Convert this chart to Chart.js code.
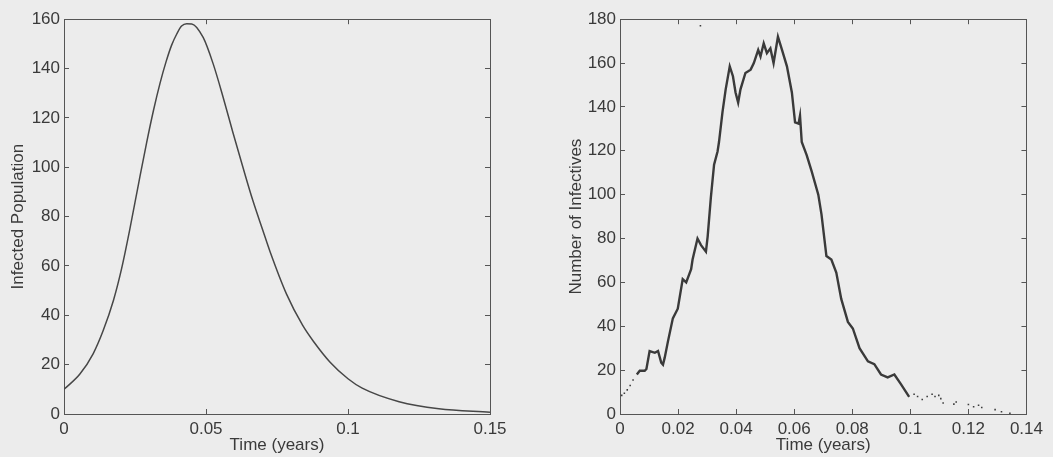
<!DOCTYPE html>
<html>
<head>
<meta charset="utf-8">
<script src="https://cdn.jsdelivr.net/npm/chart.js@4.4.1/dist/chart.umd.min.js"></script>
<style>
  html, body { margin: 0; padding: 0; background: #ececec; }
  #wrap { position: relative; width: 1053px; height: 457px; overflow: hidden; background: #ececec; }
  canvas { position: absolute; top: 0; }
</style>
</head>
<body>
<div id="wrap">
  <canvas id="odeChart" width="530" height="457" style="left:0px"></canvas>
  <canvas id="simChart" width="497" height="457" style="left:556px"></canvas>
</div>
<script>
// deterministic model (left panel)
let odeTime = [0, 0.0056, 0.0103, 0.0138, 0.0174, 0.0203, 0.0232, 0.0262, 0.0291, 0.0315, 0.0338, 0.036, 0.0379, 0.0397, 0.0414, 0.0432, 0.045, 0.049, 0.0525, 0.056, 0.0595, 0.063, 0.0665, 0.07, 0.0725, 0.0784, 0.084, 0.0878, 0.0937, 0.1, 0.105, 0.118, 0.132, 0.15];
let odeInfected = [10, 16.2, 24.5, 33.8, 46, 59, 75, 93, 110, 123, 134, 143, 149.5, 154, 157.2, 158.2, 158.1, 152.6, 142, 128.5, 114, 100, 86.5, 74.5, 66, 48.5, 36, 29.5, 21, 14.3, 10.5, 5, 2.1, 0.7];

// stochastic run (right panel), dense part drawn as a line
let simTime = [0.0058, 0.0068, 0.0085, 0.0091, 0.0102, 0.012, 0.0131, 0.0142, 0.0148, 0.0154, 0.0165, 0.0182, 0.0199, 0.0216, 0.0228, 0.0245, 0.025, 0.0267, 0.0279, 0.0296, 0.0302, 0.0313, 0.0324, 0.0336, 0.0341, 0.0353, 0.0364, 0.0378, 0.0389, 0.0398, 0.0407, 0.0415, 0.0432, 0.045, 0.0461, 0.0476, 0.0484, 0.0495, 0.0506, 0.0518, 0.0529, 0.0544, 0.0558, 0.0575, 0.0592, 0.0603, 0.0615, 0.062, 0.0626, 0.0643, 0.066, 0.0683, 0.0694, 0.0711, 0.0728, 0.0745, 0.0762, 0.0785, 0.0802, 0.0825, 0.0854, 0.0876, 0.0899, 0.0922, 0.0945, 0.0967, 0.0996];
let simInfectives = [18, 19.7, 19.7, 20.5, 28.7, 27.9, 28.7, 23.4, 22.5, 25.7, 33, 43.6, 48, 61.5, 60, 66, 70.4, 80, 77, 74, 81, 98.8, 113.7, 119.7, 124, 137.6, 148, 158.5, 154, 146.6, 142, 148, 155.5, 157, 160, 166, 163, 169, 164.5, 166.7, 160, 172, 166, 158.5, 146.6, 133, 132.4, 136, 124, 118, 110.7, 100, 91, 72, 70.4, 64.5, 52.5, 42, 39, 30, 24, 22.7, 18, 16.7, 18, 13.7, 7.8];
// sparse events drawn as single dots
let dotTime = [0.0006, 0.0015, 0.0025, 0.0035, 0.0045, 0.0277, 0.1013, 0.1025, 0.1041, 0.1058, 0.1075, 0.1085, 0.1098, 0.1105, 0.1113, 0.115, 0.1158, 0.12, 0.1218, 0.1235, 0.1246, 0.1292, 0.1314, 0.1343];
let dotValues = [8.5, 9.5, 11, 13, 15.5, 177, 9, 8, 6.6, 8, 9, 8, 8.5, 7, 5, 4.5, 5.5, 4.3, 3.3, 4, 3, 2, 1, 0.3];

// ticks
let odeXTicks = [0, 0.05, 0.1, 0.15];
let odeXLabels = ['0', '0.05', '0.1', '0.15'];
let odeYTicks = [0, 20, 40, 60, 80, 100, 120, 140, 160];
let simXTicks = [0, 0.02, 0.04, 0.06, 0.08, 0.1, 0.12, 0.14];
let simXLabels = ['0', '0.02', '0.04', '0.06', '0.08', '0.1', '0.12', '0.14'];
let simYTicks = [0, 20, 40, 60, 80, 100, 120, 140, 160, 180];

const axisColor = '#555555';
const textColor = '#3a3a3a';
const fontFamily = '"Liberation Sans", Arial, Helvetica, sans-serif';

function pairs(xs, ys) {
    return xs.map((x, i) => ({x: x, y: ys[i]}));
}

function setTicks(values) {
    return function(scale) {
        scale.ticks = values.map(v => ({value: v}));
    };
}

function buildOptions(cfg) {
    let font = {family: fontFamily, size: 17};
    // matlab style: ticks point into the plot, box on all four sides
    let grid = {drawOnChartArea: false, drawTicks: true, tickLength: -5, color: axisColor, lineWidth: 1};
    let border = {display: true, color: axisColor, width: 1};
    return {
        responsive: false,
        animation: false,
        devicePixelRatio: 1,
        layout: {padding: {top: 12, right: cfg.padRight, bottom: 0, left: 0}},
        plugins: {legend: {display: false}, tooltip: {enabled: false}},
        scales: {
            x: {
                type: 'linear', position: 'bottom', min: 0, max: cfg.xMax,
                afterBuildTicks: setTicks(cfg.xTicks),
                afterFit: s => { s.height = 43; },
                ticks: {callback: (v, i) => cfg.xLabels[i], color: textColor, font: font, padding: 10, maxRotation: 0, autoSkip: false},
                grid: grid, border: border,
                title: {display: true, text: 'Time (years)', color: textColor, font: font, padding: {top: 0, bottom: 1}}
            },
            y: {
                type: 'linear', position: 'left', min: 0, max: cfg.yMax,
                afterBuildTicks: setTicks(cfg.yTicks),
                afterFit: s => { s.width = 64; },
                ticks: {callback: v => String(v), color: textColor, font: font, padding: 9, autoSkip: false},
                grid: grid, border: border,
                title: {display: true, text: cfg.yTitle, color: textColor, font: font, padding: {top: cfg.titlePad, bottom: 0}}
            },
            xTop: {
                axis: 'x', type: 'linear', position: 'top', min: 0, max: cfg.xMax,
                afterBuildTicks: setTicks(cfg.xTicks),
                afterFit: s => { s.height = 0; },
                ticks: {display: false},
                grid: grid, border: border
            },
            yRight: {
                axis: 'y', type: 'linear', position: 'right', min: 0, max: cfg.yMax,
                afterBuildTicks: setTicks(cfg.yTicks),
                afterFit: s => { s.width = 0; },
                ticks: {display: false},
                grid: grid, border: border
            }
        }
    };
}

new Chart(document.getElementById('odeChart'), {
    type: 'scatter',
    data: {
        datasets: [{
            data: pairs(odeTime, odeInfected),
            showLine: true,
            borderColor: '#474747',
            borderWidth: 1.5,
            pointRadius: 0,
            cubicInterpolationMode: 'monotone'
        }]
    },
    options: buildOptions({xMax: 0.15, yMax: 160, xTicks: odeXTicks, xLabels: odeXLabels, yTicks: odeYTicks, yTitle: 'Infected Population', titlePad: 8, padRight: 40})
});

new Chart(document.getElementById('simChart'), {
    type: 'scatter',
    data: {
        datasets: [{
            data: pairs(simTime, simInfectives),
            showLine: true,
            borderColor: '#3a3a3a',
            borderWidth: 2.4,
            pointRadius: 0,
            tension: 0
        }, {
            data: pairs(dotTime, dotValues),
            showLine: false,
            pointStyle: 'rect',
            pointRadius: 1.1,
            backgroundColor: '#3c3c3c',
            borderWidth: 0
        }]
    },
    options: buildOptions({xMax: 0.14, yMax: 180, xTicks: simXTicks, xLabels: simXLabels, yTicks: simYTicks, yTitle: 'Number of Infectives', titlePad: 10, padRight: 23})
});
</script>
</body>
</html>
